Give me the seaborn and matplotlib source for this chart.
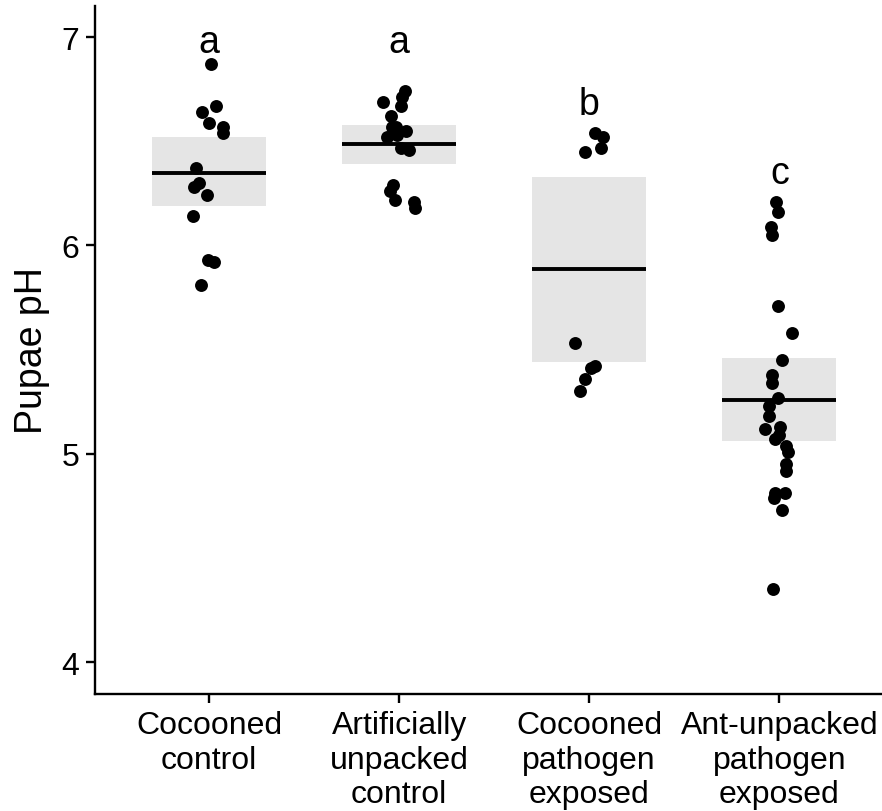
import numpy as np
import pandas as pd
import matplotlib
matplotlib.use("Agg")
import matplotlib.pyplot as plt
import seaborn as sns

# ---- data ----
groups = ["Cocooned\ncontrol", "Artificially\nunpacked\ncontrol",
          "Cocooned\npathogen\nexposed", "Ant-unpacked\npathogen\nexposed"]
ph_cocooned_control = [6.87, 6.67, 6.64, 6.59, 6.57, 6.54, 6.37, 6.30, 6.28, 6.24,
                       6.14, 5.93, 5.92, 5.81]
ph_unpacked_control = [6.74, 6.71, 6.69, 6.67, 6.62, 6.57, 6.57, 6.55, 6.53, 6.52,
                       6.47, 6.46, 6.29, 6.26, 6.22, 6.21, 6.18]
ph_cocooned_pathogen = [6.54, 6.52, 6.47, 6.45, 5.53, 5.42, 5.41, 5.36, 5.30]
ph_unpacked_pathogen = [6.21, 6.16, 6.09, 6.05, 5.71, 5.58, 5.45, 5.38, 5.34, 5.27,
                        5.23, 5.18, 5.13, 5.12, 5.09, 5.07, 5.04, 5.01, 4.95, 4.92,
                        4.81, 4.81, 4.79, 4.73, 4.35]
ci_low = [6.19, 6.39, 5.44, 5.06]
ci_high = [6.52, 6.58, 6.33, 5.46]
letters = ["a", "a", "b", "c"]
letter_y = [6.93, 6.93, 6.63, 6.30]
y_ticks = [4, 5, 6, 7]

series = [ph_cocooned_control, ph_unpacked_control, ph_cocooned_pathogen, ph_unpacked_pathogen]
df = pd.DataFrame({
    "group": np.repeat(groups, [len(s) for s in series]),
    "ph": np.concatenate(series),
})
means = df.groupby("group", sort=False)["ph"].mean().reindex(groups).values

sns.set_style("ticks")
plt.rcParams["font.family"] = ["Liberation Sans", "DejaVu Sans"]

fig = plt.figure(figsize=(8.82, 8.12), dpi=100)
ax = fig.add_axes([95 / 882, 1 - 695 / 812, 1 - 95 / 882, (695 - 7) / 812])

pos = np.arange(len(groups))
ax.bar(pos, np.array(ci_high) - np.array(ci_low), bottom=ci_low, width=0.6,
       color="#e5e5e5", edgecolor="none", zorder=1)
ax.hlines(means, pos - 0.3, pos + 0.3, color="black", lw=2.8, zorder=2)

np.random.seed(3)
sns.stripplot(data=df, x="group", y="ph", order=groups, color="black",
              size=9.3, jitter=0.09, linewidth=0, ax=ax, zorder=3)

for p, lab, ly in zip(pos, letters, letter_y):
    ax.text(p, ly, lab, ha="center", va="baseline", fontsize=27, color="black")

ax.set_xlim(-0.6, 3.54)
ax.set_ylim(3.848, 7.149)
ax.set_yticks(y_ticks)
ax.set_xlabel("")
ax.set_ylabel("Pupae pH", fontsize=27, labelpad=8, color="black")
ax.tick_params(axis="both", labelsize=23, width=1.7, length=6.5, color="black",
               labelcolor="black", pad=5)
for lab in ax.get_xticklabels():
    lab.set_linespacing(1.2)
sns.despine(ax=ax)
for s in ["left", "bottom"]:
    ax.spines[s].set_linewidth(1.7)
    ax.spines[s].set_color("black")

fig.savefig("out.png", dpi=100)
